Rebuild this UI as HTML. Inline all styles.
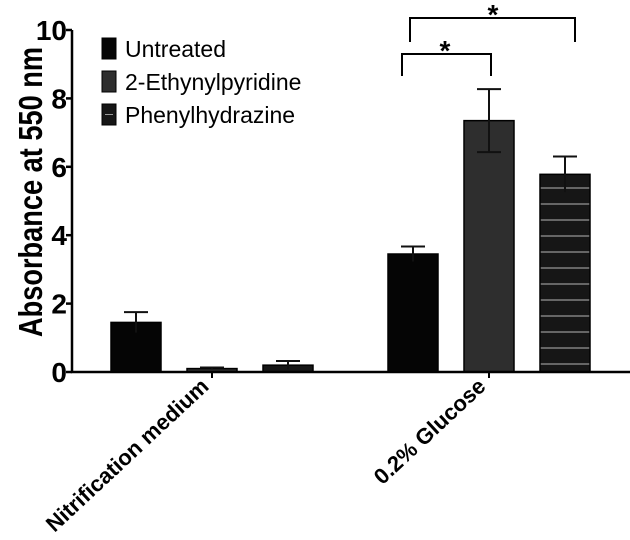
<!DOCTYPE html>
<html><head><meta charset="utf-8"><style>
html,body{margin:0;padding:0;background:#fff;}
svg{display:block;font-family:"Liberation Sans",Arial,sans-serif;}
</style></head><body>
<svg id="chart" width="630" height="540" viewBox="0 0 630 540">
<defs>
<pattern id="stripes" x="0" y="4" width="10" height="16" patternUnits="userSpaceOnUse">
<rect width="10" height="16" fill="#161616"/>
<line x1="0" y1="8" x2="10" y2="8" stroke="#9a9a9a" stroke-width="1.2"/>
</pattern>
</defs>
<g id="plot"></g>
</svg>
<script>
const categories = ["Nitrification medium", "0.2% Glucose"];
const seriesNames = ["Untreated", "2-Ethynylpyridine", "Phenylhydrazine"];
const untreatedValues = [1.45, 3.45];
const untreatedErrors = [0.3, 0.22];
const ethynylValues = [0.1, 7.35];
const ethynylErrors = [0.03, 0.92];
const phenylValues = [0.2, 5.78];
const phenylErrors = [0.12, 0.52];
const yTicks = [0, 2, 4, 6, 8, 10];

const NS = "http://www.w3.org/2000/svg";
const g = document.getElementById('plot');
const x0 = 72, y0 = 372, yTop = 30, yMax = 10;
const yScale = v => y0 - (v / yMax) * (y0 - yTop);
const groupCenter = i => 212 + i * 277;
const barOffset = j => (j - 1) * 76;
const barW = 50;
const fills = ["#050505", "#2e2e2e", "url(#stripes)"];

function el(tag, attrs, parent) {
  const e = document.createElementNS(NS, tag);
  for (const k in attrs) e.setAttribute(k, attrs[k]);
  (parent || g).appendChild(e);
  return e;
}

const allVals = [untreatedValues, ethynylValues, phenylValues];
const allErrs = [untreatedErrors, ethynylErrors, phenylErrors];
categories.forEach((c, i) => {
  allVals.forEach((vals, j) => {
    const cx = groupCenter(i) + barOffset(j);
    const yt = yScale(vals[i]);
    const r = el('rect', {x: cx - barW/2, y: yt, width: barW, height: y0 - yt, fill: fills[j], stroke: "#000", "stroke-width": 1.5});
    
    
    const ye = yScale(vals[i] + allErrs[j][i]);
    const yl = yScale(vals[i] - allErrs[j][i]);
    const eb = el('path', {d: `M${cx} ${yl} V${ye} M${cx-12} ${ye} H${cx+12}` + (j===1 && i===1 ? ` M${cx-12} ${yl} H${cx+12}` : ''), stroke: "#111", "stroke-width": 2, fill: "none"});
    
    
  });
  const tk = el('line', {x1: groupCenter(i), x2: groupCenter(i), y1: y0, y2: y0 + 6, stroke: "#000", "stroke-width": 2});
  
  
  const lx = groupCenter(i) - 2, ly = y0 + 16;
  const t = el('text', {x: lx, y: ly, transform: `rotate(-43 ${lx} ${ly})`, "text-anchor": "end", "font-size": 22, "font-weight": "bold", fill: "#000"});
  t.textContent = c;
  
  
});

// axes
const ax = el('path', {d: `M${x0} ${yTop} V${y0} H630`, stroke: "#000", "stroke-width": 2.5, fill: "none"});


yTicks.forEach(v => {
  const y = yScale(v);
  const tl = el('line', {x1: x0 - 6, x2: x0, y1: y, y2: y, stroke: "#000", "stroke-width": 2.5});
  
  
  const tt = el('text', {x: x0 - 5, y: y + 10, "text-anchor": "end", "font-size": 28, "font-weight": "bold", fill: "#000"});
  tt.textContent = v;
  
  
});
const yt = el('text', {x: 0, y: 0, transform: "translate(42 192) rotate(-90)", "text-anchor": "middle", "font-size": 33, "font-weight": "bold", textLength: 290, lengthAdjust: "spacingAndGlyphs", fill: "#000"});
yt.textContent = "Absorbance at 550 nm";



// legend
seriesNames.forEach((n, j) => {
  const y = 38 + j * 33;
  const s = el('rect', {x: 102, y: y, width: 14, height: 21, fill: j===2 ? "#161616" : fills[j], stroke: "#000", "stroke-width": 1});
  
  
  if (j === 2) el('line', {x1: 105, x2: 113, y1: y + 10.5, y2: y + 10.5, stroke: "#999", "stroke-width": 1});
  const t = el('text', {x: 125, y: y + 19, "font-size": 23, fill: "#000"});
  t.textContent = n;
  
  
});

// significance brackets
const b1 = el('path', {d: "M402 76 V54 H491 V76", stroke: "#000", "stroke-width": 2, fill: "none"});


const b2 = el('path', {d: "M410 42 V18 H575 V42", stroke: "#000", "stroke-width": 2, fill: "none"});


[[445, 60], [493, 24]].forEach(p => {
  const s = el('text', {x: p[0], y: p[1], "text-anchor": "middle", "font-size": 28, "font-weight": "bold", fill: "#000"});
  s.textContent = "*";
  
  
});
</script>
</body></html>
